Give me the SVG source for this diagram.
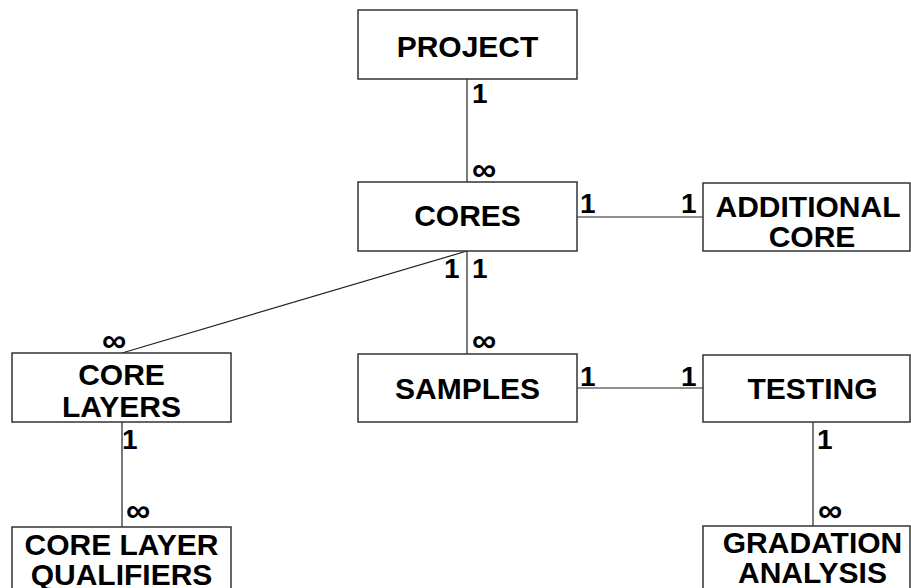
<svg xmlns="http://www.w3.org/2000/svg" width="911" height="588" viewBox="0 0 911 588">
<style>
  .box { fill: #ffffff; stroke: #333333; stroke-width: 1.5; }
  .name { font-family: "Liberation Sans", Arial, sans-serif; font-weight: bold; font-size: 30px; fill: #000000; text-anchor: middle; }
  .card { font-family: "Liberation Sans", Arial, sans-serif; font-weight: bold; font-size: 28px; fill: #000000; }
  .inf { font-family: "Liberation Sans", Arial, sans-serif; font-weight: bold; font-size: 34px; fill: #000000; }
  .link { stroke: #222222; stroke-width: 1.2; fill: none; }
</style>
<rect width="911" height="588" fill="#ffffff"/>
<g id="connectors">
  <line class="link" x1="467" y1="79" x2="467" y2="182"/>
  <line class="link" x1="577" y1="217" x2="703" y2="217"/>
  <line class="link" x1="467" y1="251" x2="467" y2="354"/>
  <line class="link" x1="467" y1="251" x2="122" y2="353"/>
  <line class="link" x1="577" y1="388" x2="703" y2="388"/>
  <line class="link" x1="122" y1="422" x2="122" y2="527"/>
  <line class="link" x1="813" y1="422" x2="813" y2="526"/>
  <text class="card" x="472" y="103">1</text>
  <text class="inf" x="472" y="181">∞</text>
  <text class="card" x="580" y="213">1</text>
  <text class="card" x="681" y="213">1</text>
  <text class="card" x="444" y="278">1</text>
  <text class="card" x="472" y="278">1</text>
  <text class="inf" x="472" y="352">∞</text>
  <text class="inf" x="102" y="352">∞</text>
  <text class="card" x="122" y="449">1</text>
  <text class="inf" x="126" y="522">∞</text>
  <text class="card" x="580" y="386">1</text>
  <text class="card" x="681" y="386">1</text>
  <text class="card" x="817" y="449">1</text>
  <text class="inf" x="818" y="522">∞</text>
</g>
<g id="project">
  <rect class="box" x="358" y="10" width="219" height="69"/>
  <text class="name" x="467.5" y="57">PROJECT</text>
</g>
<g id="cores">
  <rect class="box" x="358" y="182" width="219" height="69"/>
  <text class="name" x="467.5" y="226">CORES</text>
</g>
<g id="additional-core">
  <rect class="box" x="703" y="183" width="207" height="68"/>
  <text class="name" x="808" y="217">ADDITIONAL</text>
  <text class="name" x="812" y="247">CORE</text>
</g>
<g id="core-layers">
  <rect class="box" x="12" y="353" width="219" height="69"/>
  <text class="name" x="121.5" y="385">CORE</text>
  <text class="name" x="121.5" y="417">LAYERS</text>
</g>
<g id="samples">
  <rect class="box" x="358" y="354" width="219" height="68"/>
  <text class="name" x="467.5" y="399">SAMPLES</text>
</g>
<g id="testing">
  <rect class="box" x="703" y="355" width="207" height="67"/>
  <text class="name" x="812.5" y="399">TESTING</text>
</g>
<g id="core-layer-qualifiers">
  <rect class="box" x="12" y="527" width="219" height="80"/>
  <text class="name" x="121.5" y="555">CORE LAYER</text>
  <text class="name" x="121.5" y="585">QUALIFIERS</text>
</g>
<g id="gradation-analysis">
  <rect class="box" x="703" y="526" width="207" height="80"/>
  <text class="name" x="812.5" y="553">GRADATION</text>
  <text class="name" x="812.5" y="583">ANALYSIS</text>
</g>
</svg>
